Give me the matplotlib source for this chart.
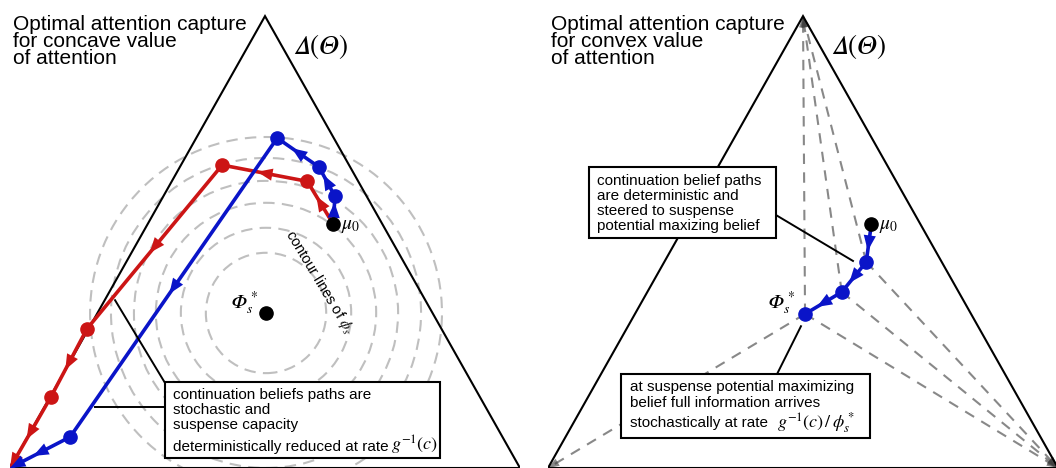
import numpy as np
import matplotlib.pyplot as plt
from matplotlib.patches import Polygon, Rectangle, Circle

plt.rcParams['font.family'] = ['Liberation Sans', 'DejaVu Sans']
plt.rcParams['mathtext.fontset'] = 'stix'

# simplex corners: bottom-left, bottom-right, top
simplex_x = [0.0, 1.0, 0.5]
simplex_y = [0.0, 0.0, 0.886]

mu0 = (0.634, 0.478)

# concave value of attention: two stochastic continuation paths
red_x = [0.634, 0.583, 0.416, 0.151, 0.080, 0.0]
red_y = [0.478, 0.562, 0.594, 0.273, 0.139, 0.0]
blue_x = [0.634, 0.637, 0.606, 0.524, 0.118, 0.0]
blue_y = [0.478, 0.533, 0.590, 0.647, 0.061, 0.0]
phi_left = (0.502, 0.304)
contour_radii = [0.118, 0.167, 0.216, 0.259, 0.304, 0.345]

# convex value of attention: deterministic path steered to phi*
conv_x = [0.634, 0.624, 0.576, 0.504]
conv_y = [0.478, 0.404, 0.345, 0.302]

RED = '#cc1515'
BLUE = '#0a14c8'

# italic capital Greek from the math alphanumeric block
SIMPLEX = '$\U0001D6E5(\U0001D6E9)$'
PHI_STAR = '$\U0001D6F7_s^*$'


def head(ax, tip, direction, color, length=0.030, width=0.024, alpha=1.0, z=6):
    d = np.asarray(direction, float)
    d = d / np.hypot(*d)
    n = np.array([-d[1], d[0]])
    tip = np.asarray(tip, float)
    base = tip - d * length
    pts = [tip, base + n * width / 2, base - n * width / 2]
    ax.add_patch(Polygon(pts, closed=True, facecolor=color, edgecolor='none',
                         alpha=alpha, zorder=z))


def path(ax, xs, ys, color, end_arrow=False):
    ax.plot(xs, ys, color=color, lw=2.6, zorder=5, solid_capstyle='butt')
    stop = len(xs) - (1 if end_arrow else 0)
    ax.plot(xs[1:stop], ys[1:stop], 'o', color=color, ms=9.5, zorder=7)
    for i in range(len(xs) - 1):
        p0 = np.array([xs[i], ys[i]])
        p1 = np.array([xs[i + 1], ys[i + 1]])
        d = p1 - p0
        u = d / np.hypot(*d)
        mid = (p0 + p1) / 2
        head(ax, mid + u * 0.015, d, color)
    if end_arrow:
        head(ax, (xs[-1], ys[-1]), (xs[-1] - xs[-2], ys[-1] - ys[-2]), color)


def box(ax, x0, y0, x1, y1):
    ax.add_patch(Rectangle((x0, y0), x1 - x0, y1 - y0, facecolor='white',
                           edgecolor='black', lw=1.5, zorder=10))


def lines(ax, x, baselines, texts, size=11):
    for b, t in zip(baselines, texts):
        ax.text(x, b, t, fontsize=size, va='baseline', ha='left', zorder=11)


fig = plt.figure(figsize=(10.56, 4.68), dpi=100)
ax_l = fig.add_axes([10 / 1056, 0, 510 / 1056, 1])
ax_r = fig.add_axes([548 / 1056, 0, 510 / 1056, 1])
for ax, kind in ((ax_l, 'concave'), (ax_r, 'convex')):
    ax.set_xlim(0, 1)
    ax.set_ylim(0, 468 / 510)
    ax.axis('off')
    ax.add_patch(Polygon(np.column_stack([simplex_x, simplex_y]), closed=True,
                         fill=False, edgecolor='black', lw=1.5, zorder=2))
    title = ['Optimal attention capture', 'for %s value' % kind, 'of attention']
    for b, t in zip([0.859, 0.8255, 0.792], title):
        ax.text(0.006, b, t, fontsize=15, va='baseline', ha='left')
    ax.text(0.555, 0.812, SIMPLEX, fontsize=19.5, va='baseline', ha='left')

# ---- left panel
for r in contour_radii:
    ax_l.add_patch(Circle(phi_left, r, fill=False, edgecolor='0.75', lw=1.5,
                          ls=(0, (5.5, 3.5)), zorder=1, clip_on=False))
ax_l.text(0.606, 0.365, r'contour lines of $\phi_s$', fontsize=10.5, rotation=-59,
          ha='center', va='center', rotation_mode='anchor')
path(ax_l, red_x, red_y, RED, end_arrow=True)
path(ax_l, blue_x, blue_y, BLUE, end_arrow=True)
ax_l.plot(*mu0, 'o', color='black', ms=9.5, zorder=8)
ax_l.text(0.649, 0.4745, r'$\mu_0$', fontsize=14, va='center', ha='left')
ax_l.plot(*phi_left, 'o', color='black', ms=9.5, zorder=8)
ax_l.text(0.486, 0.3235, PHI_STAR, fontsize=14, va='center', ha='right')

ax_l.plot([0.304, 0.206], [0.1667, 0.329], color='black', lw=1.4, zorder=9)
ax_l.plot([0.304, 0.167], [0.1196, 0.1196], color='black', lw=1.4, zorder=9)
box(ax_l, 0.304, 0.0196, 0.843, 0.1686)
lines(ax_l, 0.3196, [0.1353, 0.1059, 0.0765, 0.0333],
      ['continuation beliefs paths are', 'stochastic and', 'suspense capacity',
       'deterministically reduced at rate'])
ax_l.text(0.747, 0.0333, r'$g^{-1}(c)$', fontsize=13, va='baseline', ha='left', zorder=11)

# ---- right panel: jumps to full information
corners = list(zip(simplex_x, simplex_y))
jumps = [((conv_x[1], conv_y[1]), [1, 2]),
         ((conv_x[2], conv_y[2]), [1, 2]),
         ((conv_x[3], conv_y[3]), [0, 1, 2])]
for p, targets in jumps:
    for k in targets:
        v = corners[k]
        ax_r.plot([p[0], v[0]], [p[1], v[1]], color='0.25', alpha=0.62, lw=1.5,
                  ls=(0, (5, 4)), zorder=1)
        head(ax_r, v, (v[0] - p[0], v[1] - p[1]), '0.25', length=0.022,
             width=0.016, alpha=0.62, z=1)

path(ax_r, conv_x, conv_y, BLUE)
ax_r.plot(*mu0, 'o', color='black', ms=9.5, zorder=8)
ax_r.text(0.649, 0.4745, r'$\mu_0$', fontsize=14, va='center', ha='left')
ax_r.text(0.484, 0.3235, PHI_STAR, fontsize=14, va='center', ha='right')

ax_r.plot([0.447, 0.598], [0.496, 0.406], color='black', lw=1.4, zorder=9)
box(ax_r, 0.0804, 0.451, 0.447, 0.590)
lines(ax_r, 0.096, [0.554, 0.525, 0.496, 0.467],
      ['continuation belief paths', 'are deterministic and', 'steered to suspense',
       'potential maxizing belief'])

ax_r.plot([0.449, 0.496], [0.184, 0.278], color='black', lw=1.4, zorder=9)
box(ax_r, 0.143, 0.0588, 0.631, 0.184)
lines(ax_r, 0.161, [0.150, 0.120, 0.080],
      ['at suspense potential maximizing', 'belief full information arrives',
       'stochastically at rate'])
ax_r.text(0.449, 0.080, r'$g^{-1}(c)\,/\,\phi_s^*$', fontsize=13, va='baseline',
          ha='left', zorder=11)

fig.savefig('out.png', dpi=100)
